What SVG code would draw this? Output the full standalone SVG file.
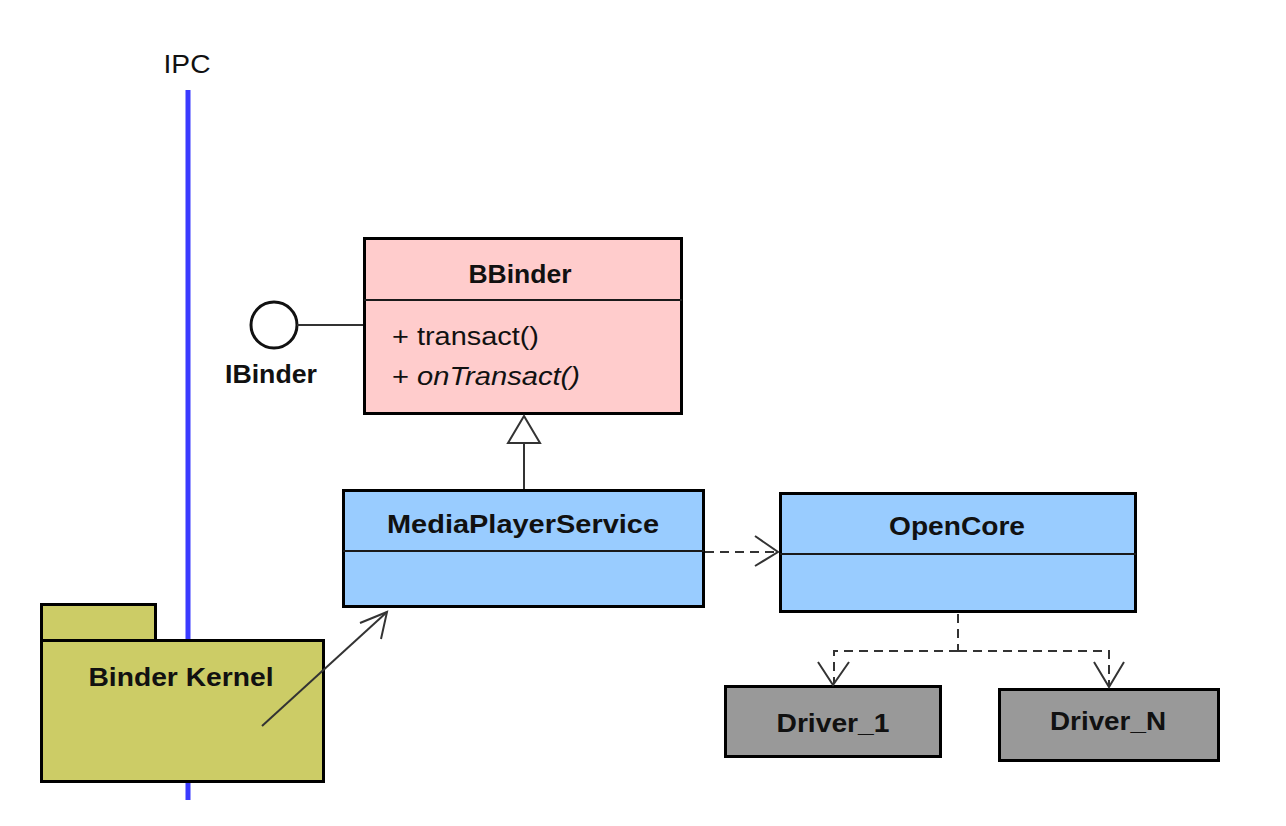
<svg xmlns="http://www.w3.org/2000/svg" width="1286" height="826" viewBox="0 0 1286 826">
<style>
.box{stroke:#000;stroke-width:3}
.div{stroke:#1a1a1a;stroke-width:2}
.t{font-family:"Liberation Sans",Arial,sans-serif;font-size:26px;fill:#111}
.b{font-weight:bold}
.c{text-anchor:middle}
.ln{fill:none;stroke:#333;stroke-width:2}
.dash{fill:none;stroke:#333;stroke-width:2;stroke-dasharray:9 6}
</style>
<rect width="1286" height="826" fill="#fff"/>
<g id="ipc">
<line x1="188" y1="90" x2="188" y2="800" stroke="#3b3bff" stroke-width="5"/>
<text class="t c" x="187" y="73" font-size="27" textLength="47" lengthAdjust="spacingAndGlyphs">IPC</text>
</g>
<g id="binder-kernel">
<rect class="box" x="41.5" y="604.5" width="114" height="36" fill="#cccc66"/>
<rect class="box" x="41.5" y="640.5" width="282" height="141" fill="#cccc66"/>
<text class="t b c" x="181" y="686" textLength="185" lengthAdjust="spacingAndGlyphs">Binder Kernel</text>
</g>
<g id="ibinder">
<circle cx="274" cy="325" r="23" fill="#fff" stroke="#111" stroke-width="3"/>
<text class="t b c" x="271" y="383" textLength="92" lengthAdjust="spacingAndGlyphs">IBinder</text>
</g>
<g id="bbinder">
<rect class="box" x="364.5" y="238.5" width="317" height="175" fill="#ffcccc"/>
<line class="div" x1="364" y1="300" x2="682" y2="300"/>
<text class="t b c" x="520" y="283" textLength="103" lengthAdjust="spacingAndGlyphs">BBinder</text>
<text class="t" x="392" y="345" textLength="147" lengthAdjust="spacingAndGlyphs">+ transact()</text>
<text class="t" x="392" y="385" textLength="188" lengthAdjust="spacingAndGlyphs">+ <tspan font-style="italic">onTransact()</tspan></text>
</g>
<g id="mediaplayerservice">
<rect class="box" x="343.5" y="490.5" width="360" height="116" fill="#99ccff"/>
<line class="div" x1="343" y1="551" x2="704" y2="551"/>
<text class="t b c" x="523" y="533" textLength="272" lengthAdjust="spacingAndGlyphs">MediaPlayerService</text>
</g>
<g id="opencore">
<rect class="box" x="780.5" y="493.5" width="355" height="118" fill="#99ccff"/>
<line class="div" x1="780" y1="554" x2="1136" y2="554"/>
<text class="t b c" x="957" y="535" textLength="136" lengthAdjust="spacingAndGlyphs">OpenCore</text>
</g>
<g id="driver-1">
<rect class="box" x="725.5" y="686.5" width="215" height="70" fill="#999999"/>
<text class="t b c" x="833" y="732" textLength="113" lengthAdjust="spacingAndGlyphs">Driver_1</text>
</g>
<g id="driver-n">
<rect class="box" x="999.5" y="689.5" width="219" height="71" fill="#999999"/>
<text class="t b c" x="1108" y="730" textLength="116" lengthAdjust="spacingAndGlyphs">Driver_N</text>
</g>
<g id="connectors">
<line class="ln" x1="297" y1="325" x2="363" y2="325"/>
<line class="ln" x1="524" y1="489" x2="524" y2="443"/>
<polygon points="524,416 508,443 540,443" fill="#fff" stroke="#333" stroke-width="2"/>
<line class="dash" x1="705" y1="552" x2="777" y2="552"/>
<polyline class="ln" points="755,536 778,552 755,566"/>
<line class="ln" x1="262" y1="726" x2="387" y2="612"/>
<polyline class="ln" points="360,623 387,612 381,639"/>
<polyline class="dash" points="958,614 958,651"/>
<polyline class="dash" points="958,651 834,651 834,684"/>
<polyline class="dash" points="958,651 1109,651 1109,687"/>
<polyline class="ln" points="818,662 833,685 849,662"/>
<polyline class="ln" points="1094,662 1109,687 1124,662"/>
</g>
</svg>
